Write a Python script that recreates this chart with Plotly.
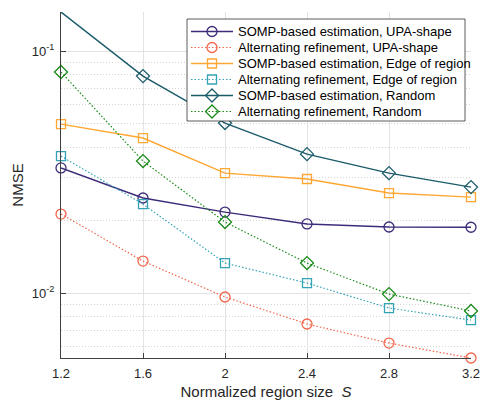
import math
import plotly.graph_objects as go

# ---------------- data ----------------
region_size = [1.2, 1.6, 2.0, 2.4, 2.8, 3.2]

somp_upa = [0.0329, 0.0247, 0.0216, 0.0193, 0.01875, 0.0187]
alt_upa = [0.0212, 0.01355, 0.00963, 0.00745, 0.00621, 0.00539]
somp_edge = [0.0499, 0.0437, 0.0313, 0.0296, 0.0259, 0.0249]
alt_edge = [0.0368, 0.0233, 0.0133, 0.0110, 0.00867, 0.00773]
somp_rand = [0.145, 0.0788, 0.0504, 0.0375, 0.0313, 0.0274]
alt_rand = [0.0819, 0.0351, 0.01965, 0.0133, 0.0099, 0.00843]

series_names = [
    "SOMP-based estimation, UPA-shape",
    "Alternating refinement, UPA-shape",
    "SOMP-based estimation, Edge of region",
    "Alternating refinement, Edge of region",
    "SOMP-based estimation, Random",
    "Alternating refinement, Random",
]
series_values = [somp_upa, alt_upa, somp_edge, alt_edge, somp_rand, alt_rand]

x_tick_vals = [1.2, 1.6, 2.0, 2.4, 2.8, 3.2]
x_tick_text = ["1.2", "1.6", "2", "2.4", "2.8", "3.2"]
y_tick_vals = [0.01, 0.1]
y_tick_text = ["10<sup>-2</sup>", "10<sup>-1</sup>"]

# ---------------- styles ----------------
DOT = "1.5px,2px"
styles = [
    dict(color="#3d2b7a", symbol="circle-open", size=10, dash="solid", width=1.4),
    dict(color="#f2674c", symbol="circle-open", size=10, dash=DOT, width=1.2),
    dict(color="#ffa733", symbol="square-open", size=9, dash="solid", width=1.4),
    dict(color="#33a3b5", symbol="square-open", size=9, dash=DOT, width=1.2),
    dict(color="#1a5b69", symbol="diamond-open", size=10, dash="solid", width=1.4),
    dict(color="#188a18", symbol="diamond-open", size=10, dash=DOT, width=1.2),
]

FONT = "Liberation Sans, Arial, Helvetica, sans-serif"
TXT = "#262626"
AX = "#404040"

fig = go.Figure()

for name, vals, st in zip(series_names, series_values, styles):
    fig.add_trace(go.Scatter(
        x=region_size, y=vals, name=name, mode="lines+markers",
        line=dict(color=st["color"], width=st["width"], dash=st["dash"]),
        marker=dict(symbol=st["symbol"], size=st["size"], color=st["color"],
                    line=dict(color=st["color"], width=1.3)),
        cliponaxis=False, showlegend=False, hoverinfo="x+y+name",
    ))

# ---------------- custom legend on an overlay axis (pixel units) ----------------
L, R, T, B = 61, 471, 12, 358
box_x0, box_x1, box_y0, box_y1 = 187, 465, 19, 121
row0, row_step = 31.5, 16
fig.add_trace(go.Scatter(
    x=[box_x0, box_x1, box_x1, box_x0, box_x0],
    y=[box_y0, box_y0, box_y1, box_y1, box_y0],
    mode="lines", fill="toself", fillcolor="white",
    line=dict(color="#333333", width=0.8),
    xaxis="x2", yaxis="y2", showlegend=False, hoverinfo="skip",
))
for i, (name, st) in enumerate(zip(series_names, styles)):
    ry = row0 + row_step * i
    fig.add_trace(go.Scatter(
        x=[191, 233], y=[ry, ry], mode="lines",
        line=dict(color=st["color"], width=st["width"], dash=st["dash"]),
        xaxis="x2", yaxis="y2", showlegend=False, hoverinfo="skip",
    ))
    fig.add_trace(go.Scatter(
        x=[212], y=[ry], mode="markers",
        marker=dict(symbol=st["symbol"], size=st["size"], color=st["color"],
                    line=dict(color=st["color"], width=1.3)),
        xaxis="x2", yaxis="y2", showlegend=False, hoverinfo="skip",
    ))
    fig.add_annotation(
        x=236, y=ry, xref="x2", yref="y2", text=name, showarrow=False,
        xanchor="left", yanchor="middle",
        font=dict(family=FONT, size=13, color="#000000"),
    )

all_vals = [v for s in series_values for v in s]
y_lo, y_hi = math.log10(min(all_vals)), math.log10(max(all_vals))
minor_vals = [k * 10 ** e for e in (-3, -2) for k in range(2, 10)]

fig.update_layout(
    width=481, height=401,
    margin=dict(l=L, r=481 - R, t=T, b=401 - B),
    paper_bgcolor="white", plot_bgcolor="white",
    font=dict(family=FONT, size=13, color=TXT),
    xaxis=dict(
        range=[region_size[0], region_size[-1]],
        tickvals=x_tick_vals, ticktext=x_tick_text,
        ticks="inside", ticklen=5, tickcolor=AX, tickwidth=1,
        showline=True, linecolor=AX, linewidth=1,
        showgrid=True, gridcolor="#e3e3e3", gridwidth=1,
        zeroline=False, automargin=False, ticklabelstandoff=3,
        tickfont=dict(size=13, color=TXT),
        title=dict(text="Normalized region size  <i>S</i>",
                   font=dict(size=15, color=TXT), standoff=6),
    ),
    yaxis=dict(
        type="log", range=[y_lo, y_hi],
        tickvals=y_tick_vals, ticktext=y_tick_text,
        ticks="inside", ticklen=5, tickcolor=AX, tickwidth=1,
        showline=True, linecolor=AX, linewidth=1,
        showgrid=True, gridcolor="#e3e3e3", gridwidth=1,
        zeroline=False, automargin=False, ticklabelstandoff=3,
        tickfont=dict(size=13, color=TXT),
        minor=dict(tickvals=minor_vals, showgrid=True, gridcolor="#d6d6d6",
                   griddash="1px,2px", gridwidth=1, ticks=""),
        title=dict(text="NMSE", font=dict(size=15, color=TXT), standoff=4),
    ),
    xaxis2=dict(overlaying="x", range=[L, R], visible=False, fixedrange=True),
    yaxis2=dict(overlaying="y", range=[B, T], visible=False, fixedrange=True),
)

fig.write_html("out.html")
